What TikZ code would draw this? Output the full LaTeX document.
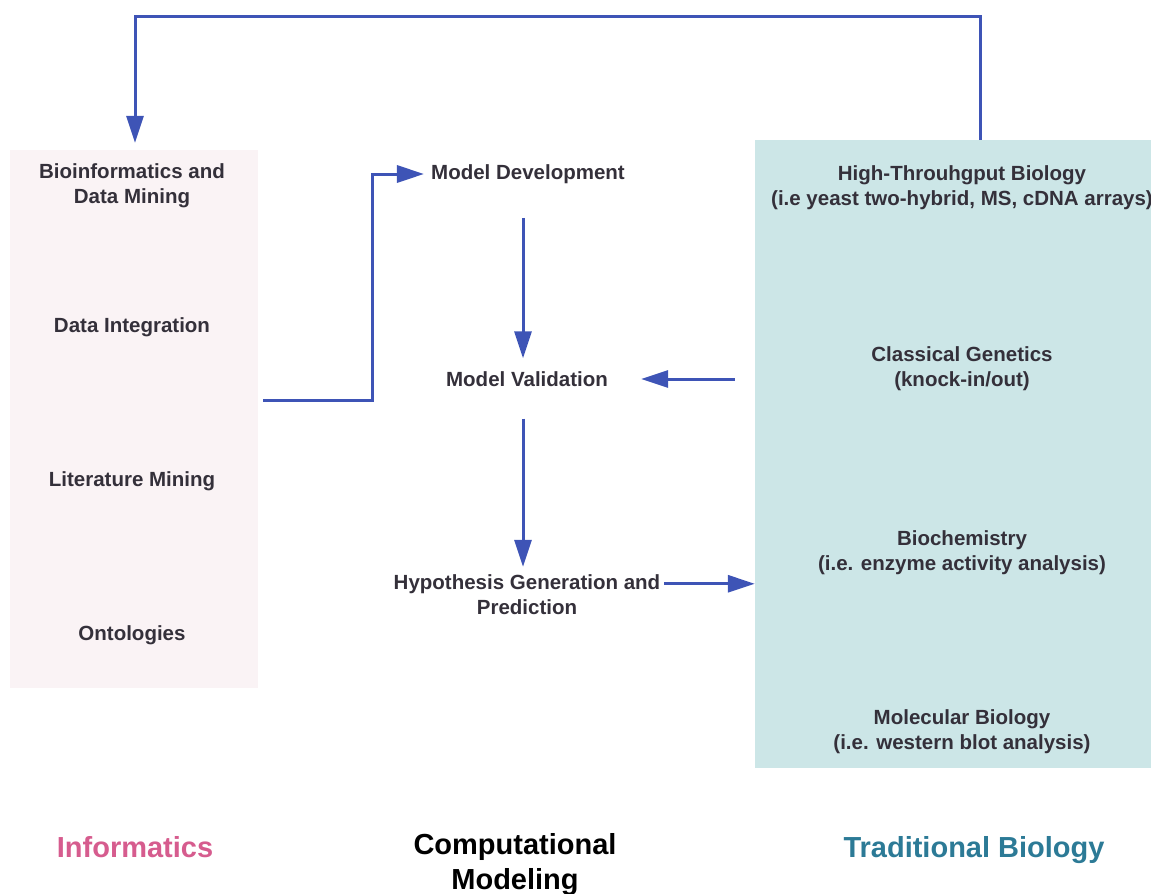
\documentclass[tikz,border=0pt]{standalone}
\usepackage{fontspec}
\setmainfont{Liberation Sans}
\usetikzlibrary{arrows.meta,positioning}

\definecolor{flowblue}{RGB}{62,84,182}
\definecolor{txtgray}{RGB}{52,48,58}
\definecolor{infofill}{RGB}{250,243,245}
\definecolor{biofill}{RGB}{204,230,231}
\definecolor{infopink}{RGB}{214,92,142}
\definecolor{bioteal}{RGB}{44,122,150}

\tikzset{
  lbl/.style={text=txtgray, font=\bfseries\fontsize{20.5}{25}\selectfont, align=center, inner sep=4pt},
  head/.style={font=\bfseries\fontsize{29}{35}\selectfont, align=center},
  flow/.style={draw=flowblue, line width=3pt, -{Triangle[length=27pt,width=17pt]}}
}

\begin{document}
\begin{tikzpicture}[x=1pt, y=-1pt]
\useasboundingbox (0,0) rectangle (1151,894);

% column backgrounds
\node[fill=infofill, minimum width=248pt, minimum height=538pt, inner sep=0pt] (info) at (134,419) {};
\node[fill=biofill, minimum width=396pt, minimum height=628pt, inner sep=0pt] (trad) at (953,454) {};

% informatics column
\node[lbl] (bioinf) at (132,186) {Bioinformatics and\\Data Mining};
\node[lbl] (integ) at (132,327) {Data Integration};
\node[lbl] (litmin) at (132,481) {Literature Mining};
\node[lbl] (onto) at (132,635) {Ontologies};

% modeling column
\node[lbl] (mdev) at (528,174) {Model Development};
\node[lbl] (mval) at (527,379) {Model Validation};
\node[lbl] (hyp) at (527,595) {Hypothesis Generation and\\Prediction};

% biology column
\node[lbl] (htb) at (962,188) {High-Throuhgput Biology\\(i.e yeast two-hybrid, MS, cDNA arrays)};
\node[lbl] (genet) at (962,369) {Classical Genetics\\(knock-in/out)};
\node[lbl] (bchem) at (962,553) {Biochemistry\\(i.e. enzyme activity analysis)};
\node[lbl] (molbio) at (962,732) {Molecular Biology\\(i.e. western blot analysis)};

% column titles
\node[head, text=infopink] (tinfo) at (135,847) {Informatics};
\node[head, text=black] (tmod) at (515,865) {Computational\\Modeling};
\node[head, text=bioteal] (tbio) at (974,850) {Traditional Biology};

% connectors
\coordinate (fbR) at (980,16);
\coordinate (fbL) at (135,16);
\coordinate (turn) at (372,400);

\draw[flow, shorten >=7pt] (trad.north -| fbR) -- (fbR) -- (fbL) -- (fbL |- info.north);
\draw[flow, shorten <=5pt, shorten >=3pt] (info.east |- turn) -- (turn) |- (mdev.west);
\draw[flow, shorten <=30pt, shorten >=9pt] (mdev.south -| 523,0) -- (mval.north -| 523,0);
\draw[flow, shorten <=28pt, shorten >=4pt] (mval.south -| 523,0) -- (hyp.north -| 523,0);
\draw[flow, shorten <=20pt, shorten >=29pt] (trad.west |- mval) -- (mval.east);
\draw[flow] ([yshift=-13pt]hyp.north east) -- ([yshift=-13pt]hyp.north east -| trad.west);
\end{tikzpicture}
\end{document}
